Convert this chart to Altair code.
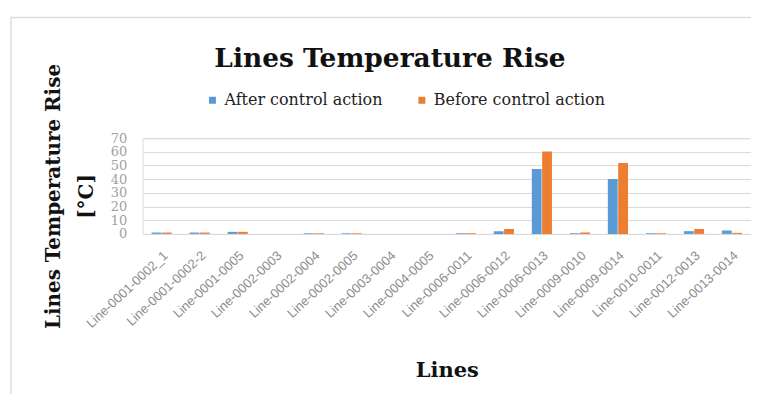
import altair as alt
import pandas as pd

lines = ["Line-0001-0002_1", "Line-0001-0002-2", "Line-0001-0005", "Line-0002-0003",
         "Line-0002-0004", "Line-0002-0005", "Line-0003-0004", "Line-0004-0005",
         "Line-0006-0011", "Line-0006-0012", "Line-0006-0013", "Line-0009-0010",
         "Line-0009-0014", "Line-0010-0011", "Line-0012-0013", "Line-0013-0014"]
after = [1.0, 1.0, 1.5, 0.0, 0.5, 0.5, 0.0, 0.0, 0.5, 2.0, 47.4, 0.5, 40.1, 0.5, 2.0, 2.5]
before = [1.0, 1.0, 1.5, 0.0, 0.5, 0.5, 0.0, 0.0, 0.5, 3.6, 60.2, 1.0, 51.8, 0.5, 3.6, 0.8]
series = ["After control action", "Before control action"]
colors = ["#5B9BD5", "#ED7D31"]
y_ticks = [0, 10, 20, 30, 40, 50, 60, 70]

rows = []
for i, ln in enumerate(lines):
    rows.append({"line": ln, "series": series[0], "value": after[i]})
    rows.append({"line": ln, "series": series[1], "value": before[i]})
df = pd.DataFrame(rows)

SERIF = "DejaVu Serif"

bars = alt.Chart(df).mark_bar().encode(
    x=alt.X("line:N", sort=lines,
            scale=alt.Scale(paddingInner=0.47, paddingOuter=0.235),
            axis=alt.Axis(title="Lines", labelAngle=-43, labelFont="Liberation Sans",
                          labelFontSize=13, labelColor="#8c8c8c", labelPadding=15,
                          ticks=False, domain=False, grid=False,
                          titleFont=SERIF, titleFontSize=21, titleFontWeight="bold",
                          titleColor="#111111", titleY=126, titleBaseline="top")),
    xOffset=alt.XOffset("series:N", sort=series, scale=alt.Scale(paddingInner=0.05)),
    y=alt.Y("value:Q", scale=alt.Scale(domain=[0, 70], nice=False),
            axis=alt.Axis(values=y_ticks, title=["Lines Temperature Rise", "[°C]"],
                          labelFont=SERIF, labelFontSize=13, labelColor="#a0a0a0",
                          labelPadding=16, ticks=False, domain=False,
                          gridColor="#d9d9d9", gridWidth=1,
                          titleFont=SERIF, titleFontSize=20, titleFontWeight="bold",
                          titleColor="#111111", titleLineHeight=33,
                          titleX=-99, titleY=58, titleBaseline="top", titleAlign="center")),
    color=alt.Color("series:N", sort=series,
                    scale=alt.Scale(domain=series, range=colors),
                    legend=alt.Legend(title=None, orient="none", legendX=62, legendY=-46,
                                      direction="horizontal", symbolType="square",
                                      symbolSize=49, labelFont=SERIF, labelFontSize=16,
                                      labelColor="#222222", columnPadding=31,
                                      labelLimit=0, symbolStrokeWidth=0)),
)

border = alt.Chart(pd.DataFrame({"a": [0]})).mark_rect(
    fill=None, stroke="#e3dada", strokeWidth=1.5
).encode(x=alt.value(-132), x2=alt.value(630), y=alt.value(-121), y2=alt.value(261))

chart = alt.layer(border, bars).properties(
    width=610, height=96,
    autosize=alt.AutoSizeParams(type="none"),
    padding={"left": 135, "top": 130, "right": 0, "bottom": 160},
    title=alt.Title("Lines Temperature Rise", font=SERIF, fontSize=26.5, fontWeight="bold",
                    color="#111111", anchor="middle", dx=-57, offset=0, dy=56),
).configure_view(stroke=None).configure(background="white")

chart.save("out.html", embed_options={"renderer": "svg", "actions": False})
